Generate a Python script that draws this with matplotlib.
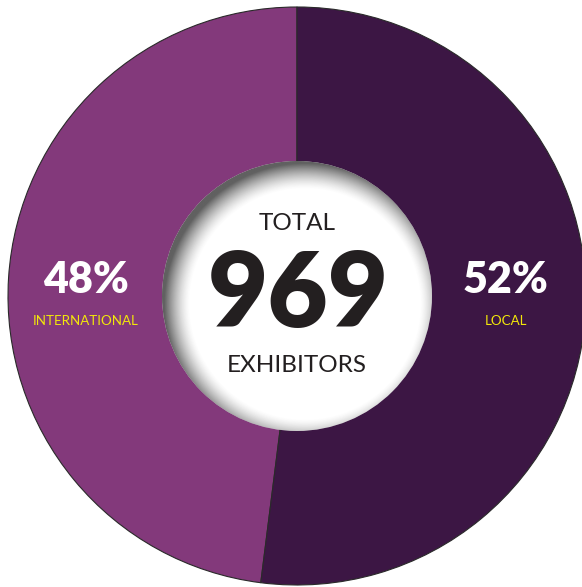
import numpy as np
import matplotlib
matplotlib.use("Agg")
import matplotlib.pyplot as plt
from matplotlib.patches import Circle

categories = ["INTERNATIONAL", "LOCAL"]
shares = [48, 52]
share_labels = ["48%", "52%"]
total = 969
colors = ["#83397B", "#3C1644"]

W, H = 582, 587
fig = plt.figure(figsize=(W / 100, H / 100), dpi=100)
ax = fig.add_axes([0, 0, 1, 1])

cx, cy = 297, H - 296
R_out, R_in = 289, 135

wedges, _ = ax.pie(shares, colors=colors, startangle=90, counterclock=True,
                   radius=R_out, center=(cx, cy), frame=True,
                   wedgeprops=dict(width=R_out - R_in + 5, edgecolor="#2a2a2a", linewidth=0.8))

# inner white disc
disc = Circle((cx, cy), R_in, facecolor="white", edgecolor="none", zorder=3)
ax.add_patch(disc)

# inner shadow (top-left)
n = 400
xs = np.linspace(cx - R_in, cx + R_in, n)
ys = np.linspace(cy - R_in, cy + R_in, n)
X, Y = np.meshgrid(xs, ys)
ox, oy = 8, -8
d = np.sqrt((X - cx - ox) ** 2 + (Y - cy - oy) ** 2) - (R_in - 4)
alpha = np.clip((d + 16) / 26, 0, 1) ** 1.5 * 0.8
img = np.zeros((n, n, 4))
img[..., :3] = 0.22
img[..., 3] = alpha
im = ax.imshow(img, extent=(cx - R_in, cx + R_in, cy - R_in, cy + R_in),
               origin="lower", zorder=4, interpolation="bilinear")
clip = Circle((cx, cy), R_in, transform=ax.transData)
im.set_clip_path(clip)

ax.set_xlim(0, W)
ax.set_ylim(0, H)
ax.set_aspect("equal")
ax.axis("off")

fam = ["Lato", "DejaVu Sans"]
ax.text(cx, H - 224, "TOTAL", ha="center", va="center", fontsize=17.5,
        family=fam, color="#231f20", zorder=5)
ax.text(cx + 1, H - 296, str(total), ha="center", va="center", fontsize=75,
        family=fam, fontweight="heavy", color="#231f20", zorder=5)
ax.text(cx, H - 365, "EXHIBITORS", ha="center", va="center", fontsize=17.5,
        family=fam, color="#231f20", zorder=5)

xs_lab = [86, 506]
for x, pct, cat in zip(xs_lab, share_labels, categories):
    ax.text(x, H - 280, pct, ha="center", va="center", fontsize=31,
            family=fam, fontweight="heavy", color="white", zorder=5)
    ax.text(x, H - 321, cat, ha="center", va="center", fontsize=9.6,
            family=fam, color="#F2E70A", zorder=5)

fig.savefig("out.png", dpi=100, facecolor="white")
